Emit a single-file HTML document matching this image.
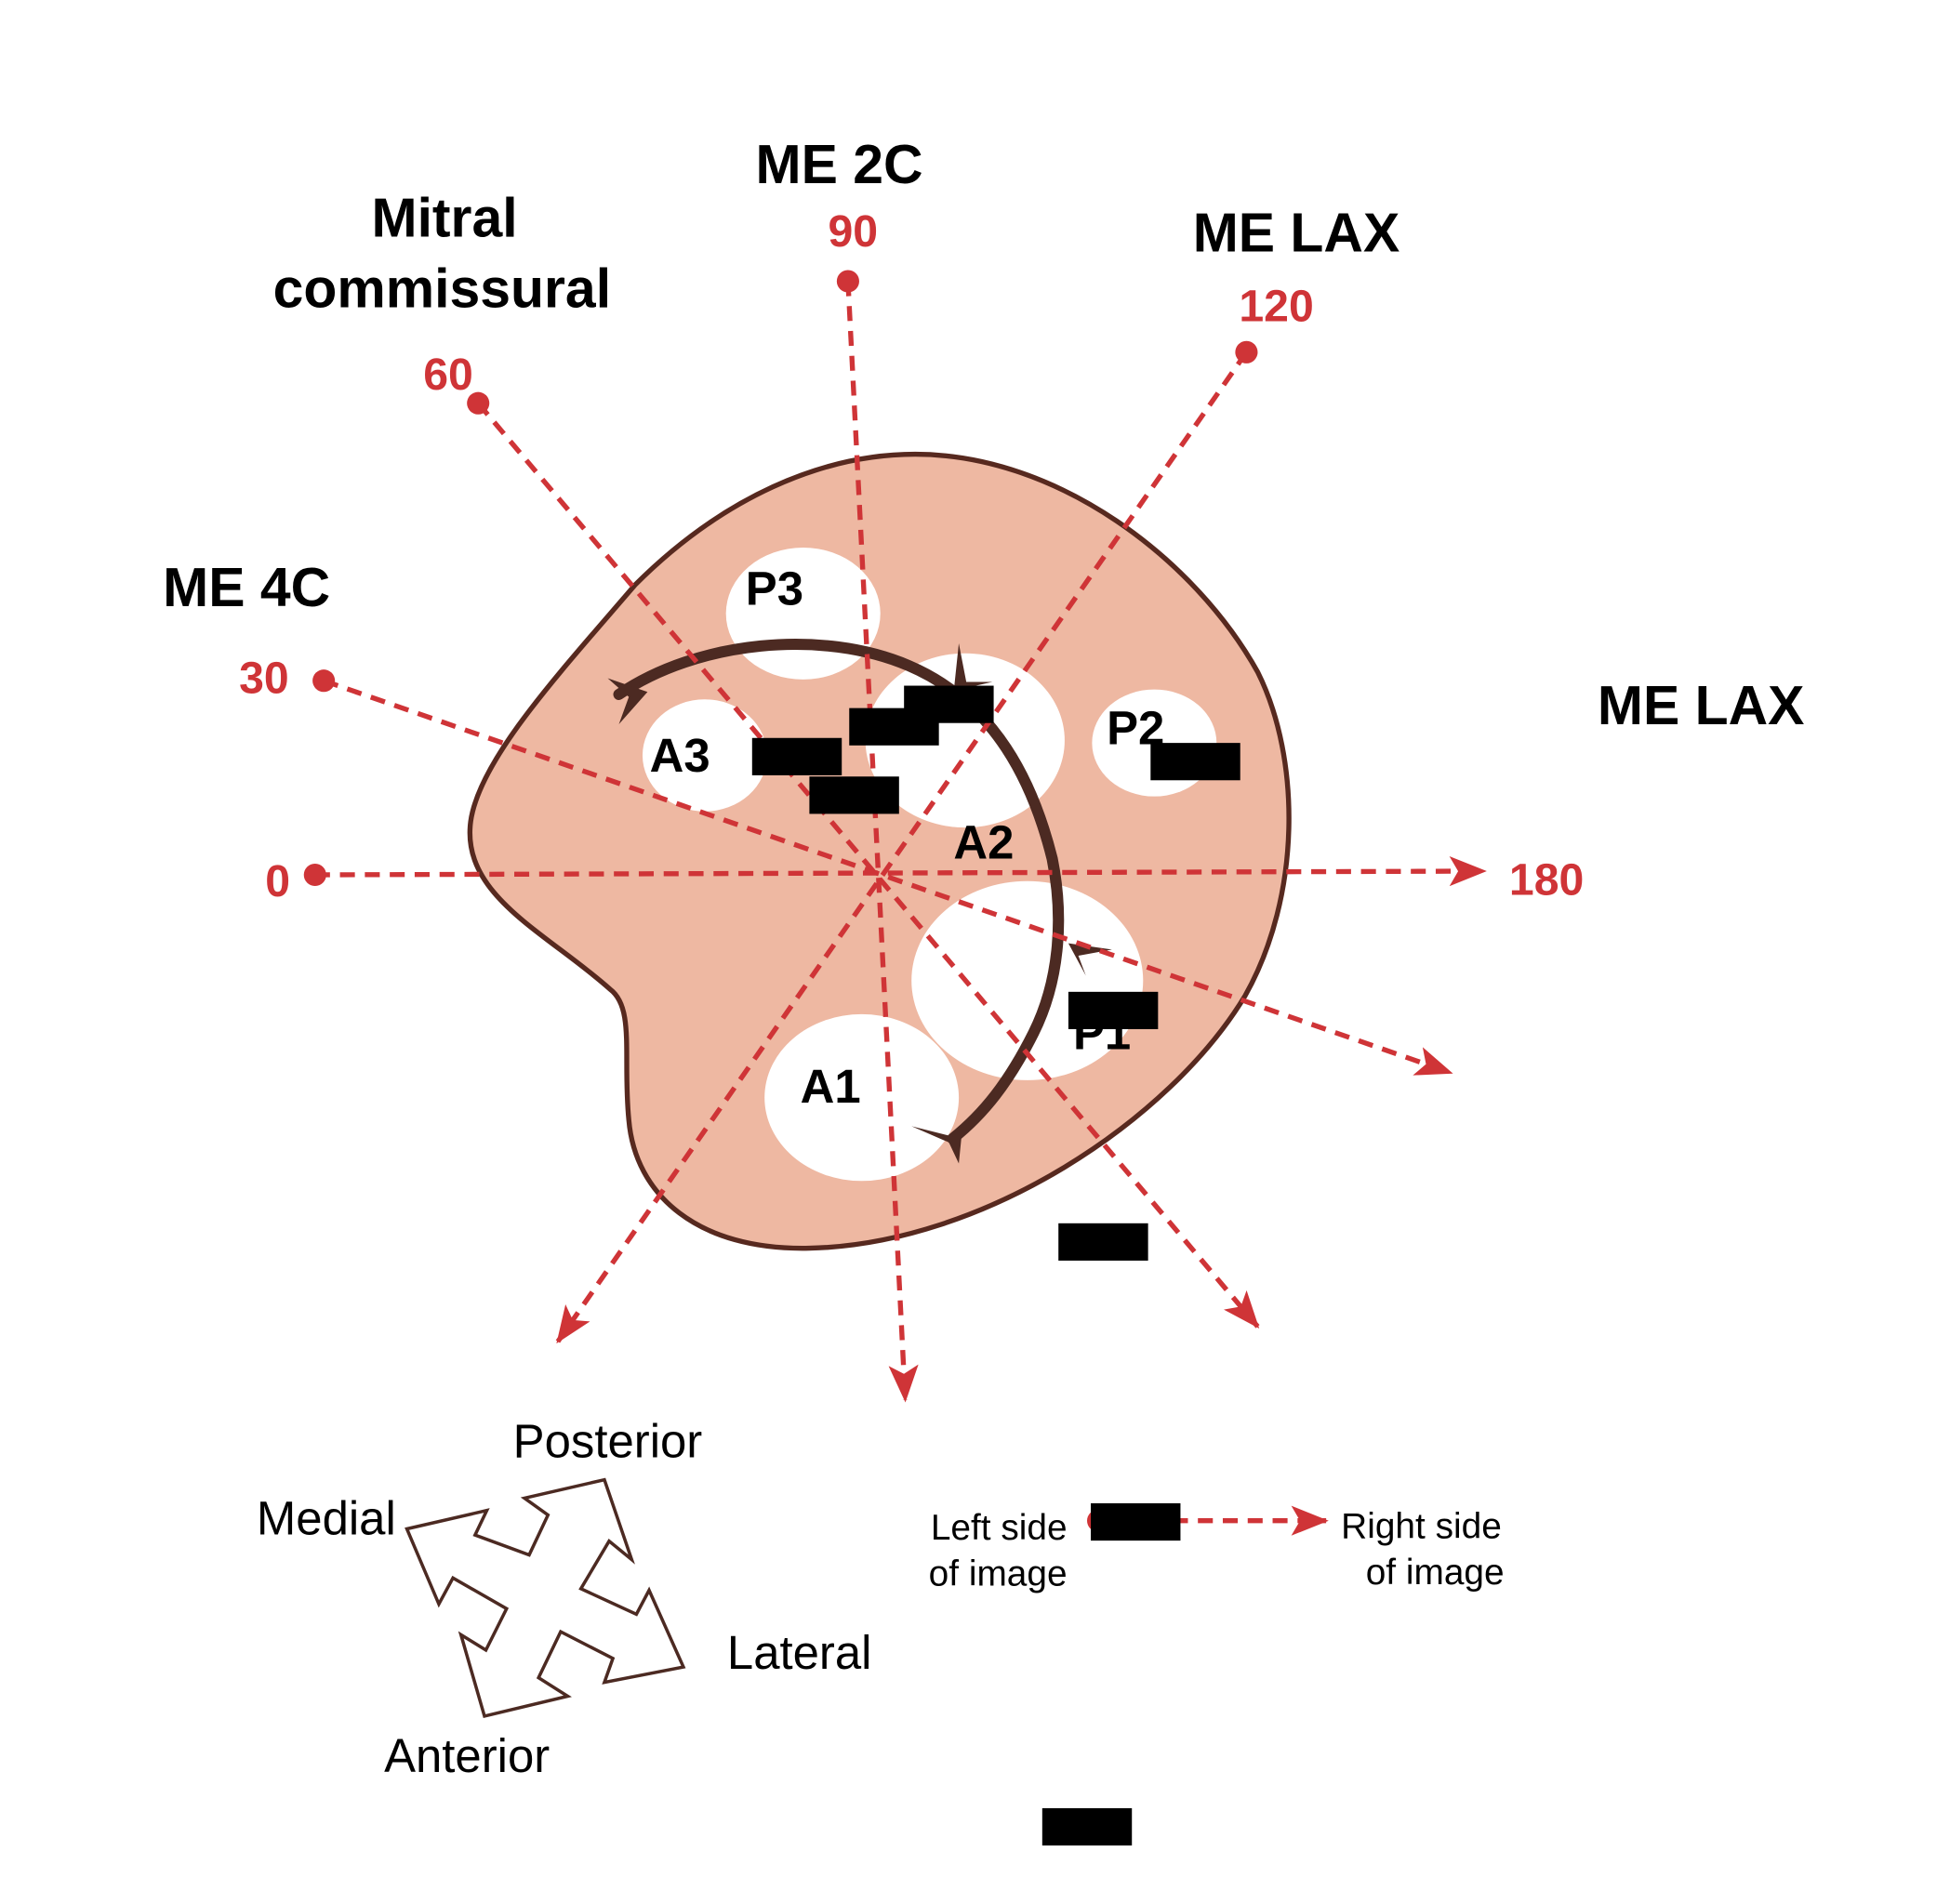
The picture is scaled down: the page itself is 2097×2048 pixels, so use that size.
<!DOCTYPE html>
<html><head><meta charset="utf-8"><style>
html,body{margin:0;padding:0;background:#fff;}
svg{display:block;}
text{font-family:"Liberation Sans",Arial,sans-serif;}
</style></head><body>
<svg width="2097" height="2048" viewBox="0 0 1566 1530" preserveAspectRatio="none" xmlns="http://www.w3.org/2000/svg">
<defs>
<marker id="ah" viewBox="0 0 30 24" refX="28" refY="12" markerWidth="30" markerHeight="24" markerUnits="userSpaceOnUse" orient="auto">
<path d="M0,0 L30,12 L0,24 L7,12 Z" fill="#cf3437"/>
</marker>
</defs>
<rect width="1566" height="1530" fill="#fff"/>
<path d="M735 365 C850 365 960 450 1010 540 C1045 610 1045 720 1000 800 C940 900 790 1000 650 1003 C560 1005 510 960 505 900 C500 850 510 810 490 795 C440 750 370 720 378 660 C385 610 450 540 510 470 C580 400 660 365 735 365 Z" fill="#eeb8a2" stroke="#57291f" stroke-width="4"/>
<g fill="#fff">
<ellipse cx="645" cy="493" rx="62" ry="53"/>
<ellipse cx="566" cy="607" rx="50" ry="45"/>
<ellipse cx="775" cy="595" rx="80" ry="70"/>
<ellipse cx="927" cy="597" rx="50" ry="43"/>
<ellipse cx="825" cy="788" rx="93" ry="80"/>
<ellipse cx="692" cy="882" rx="78" ry="67"/>
</g>
<path d="M497 558 C560 515 660 505 730 535 C800 565 830 630 845 690 C855 740 850 790 830 830 C810 870 790 895 765 915" fill="none" stroke="#4c2a22" stroke-width="9" stroke-linecap="round"/>
<g fill="#4c2a22">
<path d="M488 545 L520 556 L497 582 L505 560 Z"/>
<path d="M770 517 L776 548 L797 548 L766 555 Z"/>
<path d="M893 763 L858 758 L872 784 L866 768 Z"/>
<path d="M732 905 L772 915 L770 935 L762 918 Z"/>
</g>
<g stroke="#cf3437" stroke-width="4" stroke-dasharray="12 8" fill="none">
<line x1="253" y1="703" x2="1192" y2="700" marker-end="url(#ah)"/>
<line x1="260" y1="547" x2="1165" y2="862" marker-end="url(#ah)"/>
<line x1="384" y1="324" x2="1010" y2="1066" marker-end="url(#ah)"/>
<line x1="681" y1="226" x2="727" y2="1125" marker-end="url(#ah)"/>
<line x1="1001" y1="283" x2="448" y2="1078" marker-end="url(#ah)"/>
<line x1="882" y1="1222" x2="1065" y2="1222" marker-end="url(#ah)"/>
</g>
<g fill="#cf3437">
<circle cx="253" cy="703" r="9"/><circle cx="260" cy="547" r="9"/><circle cx="384" cy="324" r="9"/>
<circle cx="681" cy="226" r="9"/><circle cx="1001" cy="283" r="9"/><circle cx="882" cy="1222" r="9"/>
</g>
<g fill="#cf3437" font-weight="bold" font-size="36">
<text x="223" y="720" text-anchor="middle">0</text>
<text x="212" y="557" text-anchor="middle">30</text>
<text x="360" y="313" text-anchor="middle">60</text>
<text x="685" y="198" text-anchor="middle">90</text>
<text x="1025" y="258" text-anchor="middle">120</text>
<text x="1242" y="719" text-anchor="middle">180</text>
</g>
<g fill="#000" font-weight="bold" font-size="44" text-anchor="middle">
<text x="198" y="487">ME 4C</text>
<text x="357" y="190">Mitral</text>
<text x="355" y="247">commissural</text>
<text x="674" y="147">ME 2C</text>
<text x="1041" y="202">ME LAX</text>
<text x="1366" y="582">ME LAX</text>
</g>
<g fill="#000" font-weight="bold" font-size="38" text-anchor="middle">
<text x="622" y="486">P3</text>
<text x="546" y="620">A3</text>
<text x="790" y="690">A2</text>
<text x="912" y="598">P2</text>
<text x="885" y="843">P1</text>
<text x="667" y="886">A1</text>
</g>
<g fill="#000">
<rect x="604" y="593" width="72" height="30"/>
<rect x="650" y="624" width="72" height="30"/>
<rect x="682" y="569" width="72" height="30"/>
<rect x="726" y="551" width="72" height="30"/>
<rect x="924" y="597" width="72" height="30"/>
<rect x="858" y="797" width="72" height="30"/>
<rect x="850" y="983" width="72" height="30"/>
<rect x="876" y="1208" width="72" height="30"/>
<rect x="837" y="1453" width="72" height="30"/>
</g>
<g fill="#000" font-size="29">
<text x="857" y="1237" text-anchor="end">Left side</text>
<text x="857" y="1274" text-anchor="end">of image</text>
<text x="1077" y="1236">Right side</text>
<text x="1208" y="1273" text-anchor="end">of image</text>
</g>
<g transform="translate(187 1120) scale(0.3777 0.2467)">
<polygon points="370,440 540,380 515,460 630,525 670,395 620,340 790,280 848,540 800,480 740,635 858,718 885,640 958,890 790,940 808,862 697,775 650,925 712,985 535,1050 485,785 538,835 582,700 468,600 438,685" fill="#fff" stroke="#4c2a22" stroke-width="3.5" vector-effect="non-scaling-stroke"/>
</g>
<g fill="#000" font-size="38">
<text x="488" y="1171" text-anchor="middle">Posterior</text>
<text x="262" y="1233" text-anchor="middle">Medial</text>
<text x="642" y="1341" text-anchor="middle">Lateral</text>
<text x="375" y="1424" text-anchor="middle">Anterior</text>
</g>
</svg>
</body></html>
